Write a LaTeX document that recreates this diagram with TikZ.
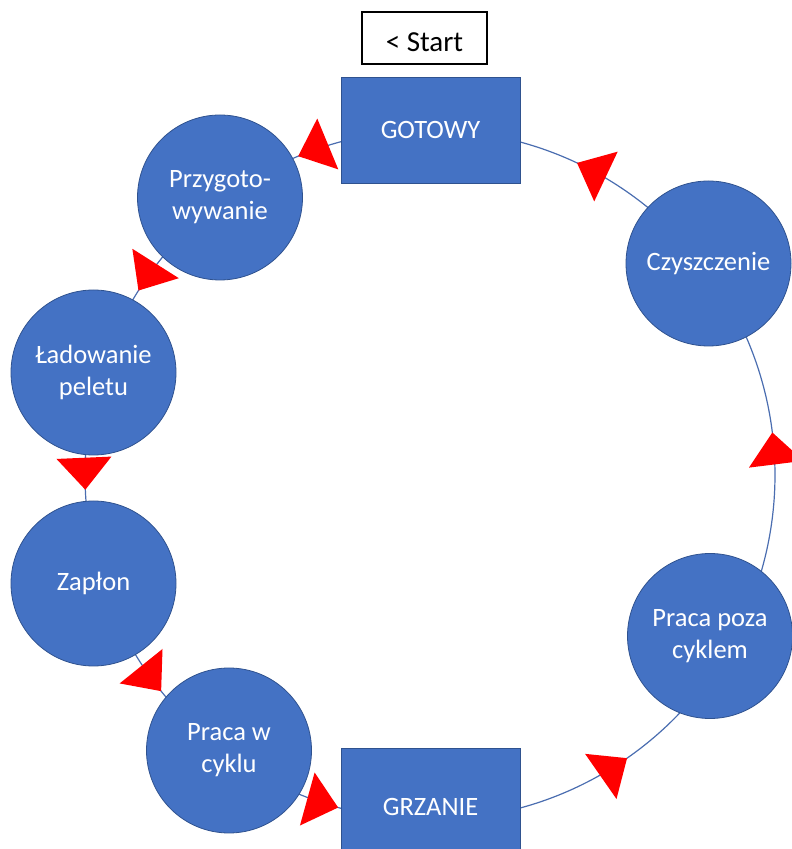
\documentclass[tikz,border=0pt]{standalone}
\usepackage{fontspec}
\setmainfont{Carlito}
\usetikzlibrary{calc,decorations.markings,backgrounds}
\definecolor{nodeblue}{HTML}{4472C4}
\definecolor{nodeedge}{HTML}{2F528F}
\definecolor{linkblue}{HTML}{4A6DB0}
\definecolor{arrowred}{HTML}{FF0000}
\newcommand{\cycR}{345}
% connector along the big cycle circle from node #1 to node #2, arrowhead at fraction #3
\newcommand{\cyclink}[3]{%
  \draw[conn, postaction={decorate}, decoration={markings, mark=at position #3 with {\fill[arrowred] (0,0) -- (-32,27.5) -- (-32,-27.5) -- cycle;}}]
    let \p1=($(#1)-(O)$), \p2=($(#2)-(O)$),
        \n1={atan2(\y1,\x1)}, \n2={atan2(\y2,\x2)}, \n3={\n2+360*(\n2<\n1)} in
    ($(O)+(\n1:\cycR)$) arc[start angle=\n1, end angle=\n3, radius=\cycR];%
}
\begin{document}
\begin{tikzpicture}[x=1pt,y=1pt,
  stage/.style={circle, fill=nodeblue, draw=nodeedge, line width=0.8pt, minimum size=165pt, inner sep=0pt,
    text=white, align=center, font=\fontsize{26.5}{32}\selectfont},
  statebox/.style={rectangle, fill=nodeblue, draw=nodeedge, line width=0.8pt, minimum width=179pt, inner sep=0pt,
    text=white, align=center, font=\fontsize{26.5}{32}\selectfont},
  startbox/.style={rectangle, draw=black, line width=1.5pt, minimum width=125pt, minimum height=52pt, inner sep=0pt,
    text height=27pt, text depth=0pt, font=\fontsize{29}{35}\selectfont},
  conn/.style={draw=linkblue, line width=1.2pt}]
\useasboundingbox (0,0) rectangle (792,849);
\coordinate (O) at (430,374);
\node[startbox] (start) at (424.5,811) {< Start};
\node[statebox, minimum height=106pt] (g) at (430.5,719) {GOTOWY};
\node[stage] (p) at (220,651.5) {Przygoto-\\wywanie};
\node[stage] (l) at (93.5,476.5) {Ładowanie\\peletu};
\node[stage] (z) at (93.5,265.5) {Zapłon};
\node[stage] (w) at (229,98.5) {Praca w\\cyklu};
\node[statebox, minimum height=118pt] (gr) at (430.5,42) {GRZANIE};
\node[stage] (pp) at (710,213) {Praca poza\\cyklem};
\node[stage] (c) at (708.5,585.5) {Czyszczenie};
\begin{scope}[on background layer]
\cyclink{g}{p}{0.606}
\cyclink{p}{l}{0.572}
\cyclink{l}{z}{0.557}
\cyclink{z}{w}{0.581}
\cyclink{w}{gr}{0.571}
\cyclink{gr}{pp}{0.579}
\cyclink{pp}{c}{0.551}
\cyclink{c}{g}{0.523}
\end{scope}
\end{tikzpicture}
\end{document}
